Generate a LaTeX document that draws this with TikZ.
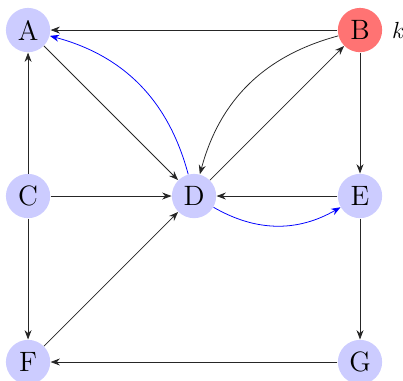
\documentclass[tikz,border=0pt]{standalone}
\usetikzlibrary{positioning,arrows.meta}

\begin{document}
\begin{tikzpicture}[
    x=3cm, y=3cm,
    every node/.style={font=\Large},
    vtx/.style={circle, fill=blue!20, minimum size=8mm, inner sep=0pt},
    arr/.style={->, >=Stealth, black!85},
    barr/.style={->, >=Stealth, blue, bend right=30},
]
    \useasboundingbox (-0.169,-0.114) rectangle (2.259,2.181);
    \node[vtx] (A) at (0,2) {A};
    \node[vtx, fill=red!55] (B) at (2,2) {B};
    \node[vtx] (C) at (0,1) {C};
    \node[vtx] (D) at (1,1) {D};
    \node[vtx] (E) at (2,1) {E};
    \node[vtx] (F) at (0,0) {F};
    \node[vtx] (G) at (2,0) {G};
    \node[right=0.5mm of B, font=\large] (k) {$k$};
    %% straight edges
    \draw[arr] (B) -- (A);
    \draw[arr] (C) -- (A);
    \draw[arr] (A) -- (D);
    \draw[arr] (D) -- (B);
    \draw[arr] (B) -- (E);
    \draw[arr] (C) -- (D);
    \draw[arr] (E) -- (D);
    \draw[arr] (C) -- (F);
    \draw[arr] (F) -- (D);
    \draw[arr] (E) -- (G);
    \draw[arr] (G) -- (F);
    %% curved edges
    \draw[arr] (B) to[bend right=30] (D);
    \draw[barr] (D) to (A);
    \draw[barr] (D) to (E);
\end{tikzpicture}
\end{document}
